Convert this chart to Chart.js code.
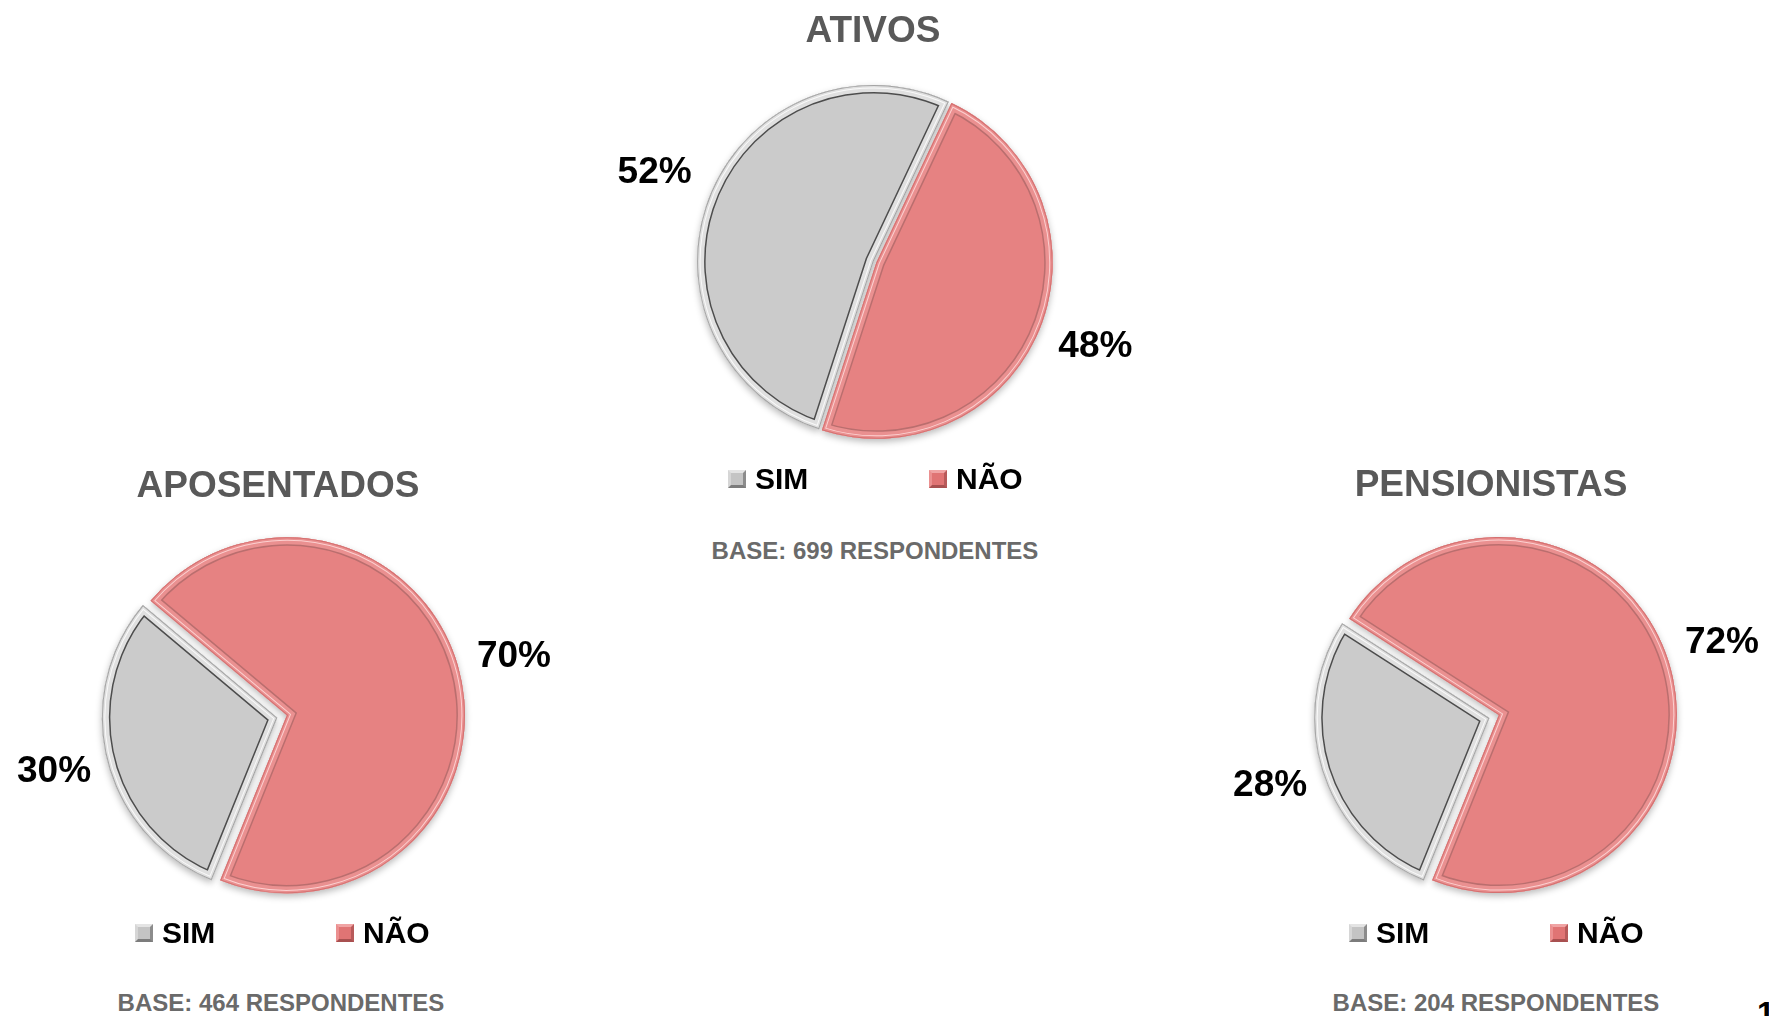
<!DOCTYPE html>
<html lang="pt-BR">
<head>
<meta charset="utf-8">
<script src="https://cdn.jsdelivr.net/npm/chart.js@4.4.1/dist/chart.umd.min.js"></script>
<style>
  html, body { margin: 0; padding: 0; background: #ffffff; }
  body {
    width: 1769px; height: 1016px; position: relative; overflow: hidden;
    font-family: "Liberation Sans", Arial, Helvetica, sans-serif; font-weight: bold;
  }
  .pie { position: absolute; }
  .txt { position: absolute; white-space: nowrap; line-height: 1; }
  .center { transform: translateX(-50%); }
  .title { font-size: 37px; color: #595959; }
  .base { font-size: 24px; color: #6a6a6a; }
  .leg { font-size: 30px; color: #000000; }
  .mk { position: absolute; width: 18px; height: 18px; box-sizing: border-box; border: 3px solid; }
</style>
</head>
<body>
<script>
// Survey answers per group (percent of respondents)
const groups = ['ATIVOS', 'APOSENTADOS', 'PENSIONISTAS'];
const categories = ['SIM', 'NÃO'];
const ativos = [52, 48];
const aposentados = [30, 70];
const pensionistas = [28, 72];
const respondents = [699, 464, 204];
const sliceColors = ['#cbcbcb', '#e68282'];

const series = [ativos, aposentados, pensionistas];

// Panel placement on the page
const panels = [
  { cx: 875,  cy: 262, r: 175, rot: 198, titleX: 873,  titleY: 29.5, legendX: 728,  legendY: 479,   baseX: 875,  baseY: 551,  w: 620, h: 440, explode: [1.5, 1.5] },
  { cx: 284,  cy: 716, r: 175, rot: 202, titleX: 278,  titleY: 484,  legendX: 135,  legendY: 932.5, baseX: 281,  baseY: 1003, w: 564, h: 440, explode: [7, 3] },
  { cx: 1496, cy: 716, r: 175, rot: 202, titleX: 1491, titleY: 483,  legendX: 1349, legendY: 932.5, baseX: 1496, baseY: 1003, w: 540, h: 440, explode: [7, 3] }
];

// Bevel styling for each slice colour
const bevel = [
  { band: '#e0e0e0', groove: 'rgba(55,55,55,0.85)', rim: '#a4a4a4', hi: 'rgba(255,255,255,0.8)' },
  { band: '#ea9090', groove: 'rgba(150,95,95,0.55)', rim: '#d47070', hi: 'rgba(255,220,220,0.85)' }
];

function addText(text, cls, x, capCenterY, fontSize, centered) {
  const d = document.createElement('div');
  d.className = 'txt ' + cls + (centered ? ' center' : '');
  d.textContent = text;
  d.style.left = x + 'px';
  d.style.fontSize = fontSize + 'px';
  d.style.top = (capCenterY - 0.4885 * fontSize) + 'px';
  document.body.appendChild(d);
  return d;
}

// Geometry of an arc as Chart.js draws it (the offset translates by offset/4)
function arcGeom(el) {
  const p = el.getProps(['x', 'y', 'startAngle', 'endAngle', 'outerRadius', 'circumference'], true);
  const off = (el.options.offset || 0) / 4;
  const half = (p.startAngle + p.endAngle) / 2;
  const fix = 1 - Math.sin(Math.min(Math.PI, p.circumference || 0));
  return {
    x0: p.x, y0: p.y, r0: p.outerRadius,
    cx: p.x + Math.cos(half) * off, cy: p.y + Math.sin(half) * off,
    r: p.outerRadius + off * fix, a0: p.startAngle, a1: p.endAngle, half
  };
}

function sectorPath(ctx, g) {
  ctx.beginPath();
  ctx.moveTo(g.cx, g.cy);
  ctx.arc(g.cx, g.cy, g.r, g.a0, g.a1);
  ctx.closePath();
}

// Soft drop shadow under the pies
const shadowPlugin = {
  id: 'pieShadow',
  beforeDatasetsDraw(chart) {
    const ctx = chart.ctx;
    ctx.save();
    ctx.shadowColor = 'rgba(0,0,0,0.28)';
    ctx.shadowBlur = 7;
    ctx.shadowOffsetX = 0;
    ctx.shadowOffsetY = 3;
  },
  afterDatasetsDraw(chart) {
    chart.ctx.restore();
  }
};

// Raised rim on every slice: outer edge, light band, highlight and groove line
const bevelPlugin = {
  id: 'pieBevel',
  afterDatasetsDraw(chart) {
    const ctx = chart.ctx;
    const meta = chart.getDatasetMeta(0);
    meta.data.forEach((el, i) => {
      const g = arcGeom(el);
      const s = bevel[i % bevel.length];
      ctx.save();
      sectorPath(ctx, g);
      ctx.clip();
      ctx.lineJoin = 'miter';
      sectorPath(ctx, g);
      ctx.strokeStyle = s.groove; ctx.lineWidth = 2 * 8.5; ctx.stroke();
      ctx.strokeStyle = s.band;   ctx.lineWidth = 2 * 7;   ctx.stroke();
      ctx.strokeStyle = s.hi;     ctx.lineWidth = 2 * 3.5; ctx.stroke();
      ctx.strokeStyle = s.band;   ctx.lineWidth = 2 * 2.5; ctx.stroke();
      ctx.strokeStyle = s.rim;    ctx.lineWidth = 2 * 1;   ctx.stroke();
      ctx.restore();
    });
  }
};

// Percentage labels outside each slice
const labelPlugin = {
  id: 'pieLabels',
  afterDraw(chart) {
    const ctx = chart.ctx;
    const meta = chart.getDatasetMeta(0);
    const values = chart.data.datasets[0].data;
    const fs = 37;
    ctx.save();
    ctx.font = 'bold ' + fs + 'px "Liberation Sans", Arial, sans-serif';
    ctx.fillStyle = '#000000';
    ctx.textAlign = 'center';
    ctx.textBaseline = 'alphabetic';
    meta.data.forEach((el, i) => {
      const g = arcGeom(el);
      const d = g.r0 + 62;
      const x = g.x0 + Math.cos(g.half) * d;
      const y = g.y0 + Math.sin(g.half) * d - 5;
      ctx.fillText(values[i] + '%', x, y + 0.358 * fs);
    });
    ctx.restore();
  }
};

const markerStyles = [
  { bg: '#c4c4c4', bc: '#e4e4e4 #8c8c8c #7c7c7c #d6d6d6' },
  { bg: '#e07474', bc: '#f0a4a4 #b85a5a #a85050 #eb9090' }
];

groups.forEach((name, k) => {
  const p = panels[k];
  const box = document.createElement('div');
  box.className = 'pie';
  box.style.left = (p.cx - p.w / 2) + 'px';
  box.style.top = (p.cy - p.h / 2) + 'px';
  box.style.width = p.w + 'px';
  box.style.height = p.h + 'px';
  const cv = document.createElement('canvas');
  box.appendChild(cv);
  document.body.appendChild(box);

  new Chart(cv, {
    type: 'pie',
    data: {
      labels: categories,
      datasets: [{
        data: series[k],
        backgroundColor: sliceColors,
        borderWidth: 0,
        offset: p.explode.map(v => v * 4)
      }]
    },
    options: {
      responsive: true,
      maintainAspectRatio: false,
      animation: false,
      events: [],
      rotation: p.rot,
      radius: p.r,
      layout: { padding: 0 },
      plugins: { legend: { display: false }, title: { display: false }, tooltip: { enabled: false } }
    },
    plugins: [shadowPlugin, bevelPlugin, labelPlugin]
  });

  // Title
  addText(name, 'title', p.titleX, p.titleY, 37, true);

  // Legend
  categories.forEach((c, i) => {
    const mx = p.legendX + i * 201;
    const mk = document.createElement('div');
    mk.className = 'mk';
    mk.style.left = mx + 'px';
    mk.style.top = (p.legendY - 9) + 'px';
    mk.style.background = markerStyles[i].bg;
    mk.style.borderColor = markerStyles[i].bc;
    document.body.appendChild(mk);
    addText(c, 'leg', mx + 27, p.legendY, 30, false);
  });

  // Sample size note
  addText('BASE: ' + respondents[k] + ' RESPONDENTES', 'base', p.baseX, p.baseY, 24, true);
});

// Page number at the lower right corner
addText('1', 'leg', 1757, 1013, 32, false);
</script>
</body>
</html>
